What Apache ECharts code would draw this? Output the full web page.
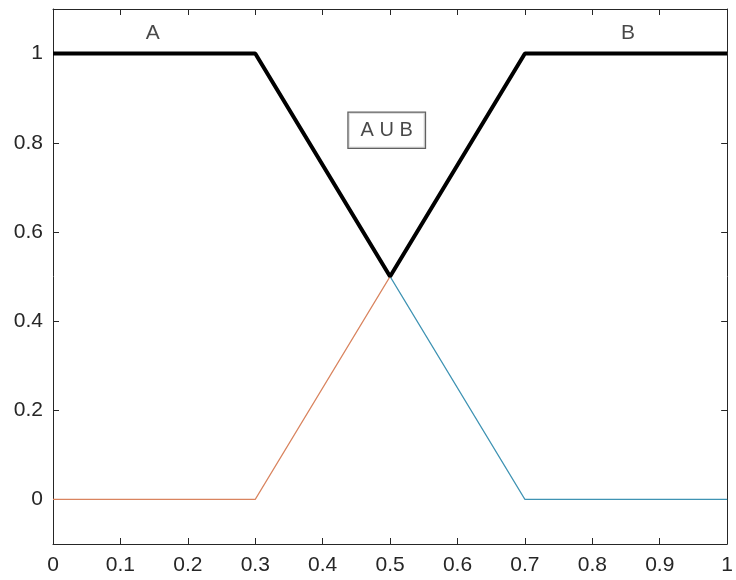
<!DOCTYPE html>
<html>
<head>
<meta charset="utf-8">
<script src="https://cdn.jsdelivr.net/npm/echarts@6/dist/echarts.min.js"></script>
<style>
  html, body { margin: 0; padding: 0; background: #fff; }
  #chart { width: 736px; height: 580px; }
</style>
</head>
<body>
<div id="chart"></div>
<script>
// membership functions
const xA = [0, 0.3, 0.7, 1]
const yA = [1, 1, 0, 0]
const xB = [0, 0.3, 0.7, 1]
const yB = [0, 0, 1, 1]
const xU = [0, 0.3, 0.5, 0.7, 1]
const yU = [1, 1, 0.5, 1, 1]

// tick positions
const xTicks = [0, 0.1, 0.2, 0.3, 0.4, 0.5, 0.6, 0.7, 0.8, 0.9, 1]
const yTicks = [0, 0.2, 0.4, 0.6, 0.8, 1]

// text annotations in data coordinates
const labels = [
  { text: 'A', x: 0.148, y: 1.045 },
  { text: 'B', x: 0.853, y: 1.045 },
  { text: 'A U B', x: 0.495, y: 0.828, boxed: true }
]

const pairs = (xs, ys) => xs.map((x, i) => [x, ys[i]])
const axisColor = '#262626'
const fontFamily = "'Liberation Sans', Arial, sans-serif"

const chart = echarts.init(document.getElementById('chart'))

const baseX = {
  type: 'value',
  min: 0,
  max: 1,
  axisLine: { show: true, onZero: false, lineStyle: { color: axisColor, width: 1 } },
  axisTick: { show: true, inside: true, length: 6, customValues: xTicks, lineStyle: { color: axisColor } },
  splitLine: { show: false }
}
const baseY = {
  type: 'value',
  min: -0.1,
  max: 1.1,
  axisLine: { show: true, onZero: false, lineStyle: { color: axisColor, width: 1 } },
  axisTick: { show: true, inside: true, length: 6, customValues: yTicks, lineStyle: { color: axisColor } },
  splitLine: { show: false }
}

chart.setOption({
  animation: false,
  grid: { left: 53, right: 5, top: 9, bottom: 36, containLabel: false },
  xAxis: [
    Object.assign({}, baseX, {
      position: 'bottom',
      axisLabel: {
        color: axisColor, fontSize: 21, fontFamily, margin: 11,
        customValues: xTicks,
        formatter: v => String(Math.round(v * 10) / 10)
      }
    }),
    Object.assign({}, baseX, { position: 'top', axisLabel: { show: false } })
  ],
  yAxis: [
    Object.assign({}, baseY, {
      position: 'left',
      axisLabel: {
        color: axisColor, fontSize: 21, fontFamily, margin: 10,
        customValues: yTicks,
        formatter: v => String(Math.round(v * 10) / 10)
      }
    }),
    Object.assign({}, baseY, { position: 'right', axisLabel: { show: false } })
  ],
  series: [
    {
      name: 'A',
      type: 'line',
      data: pairs(xA, yA),
      symbol: 'none',
      lineStyle: { color: '#3f93b3', width: 1.2 },
      z: 2
    },
    {
      name: 'B',
      type: 'line',
      data: pairs(xB, yB),
      symbol: 'none',
      lineStyle: { color: '#d9845f', width: 1.2 },
      z: 2
    },
    {
      name: 'AUB',
      type: 'line',
      data: pairs(xU, yU),
      symbol: 'none',
      lineStyle: { color: '#000', width: 4 },
      z: 3
    },
    {
      name: 'labels',
      type: 'scatter',
      symbolSize: 0,
      silent: true,
      z: 4,
      data: labels.map(l => ({
        value: [l.x, l.y],
        label: {
          show: true,
          position: 'inside',
          formatter: l.text,
          color: '#1a1a1a',
          fontSize: l.boxed ? 20 : 21,
          fontFamily,
          backgroundColor: l.boxed ? '#fff' : 'transparent',
          borderColor: l.boxed ? '#3a3a3a' : 'transparent',
          borderWidth: l.boxed ? 1.3 : 0,
          padding: l.boxed ? [8, 12, 7, 12] : 0
        }
      }))
    }
  ]
})
</script>
</body>
</html>
